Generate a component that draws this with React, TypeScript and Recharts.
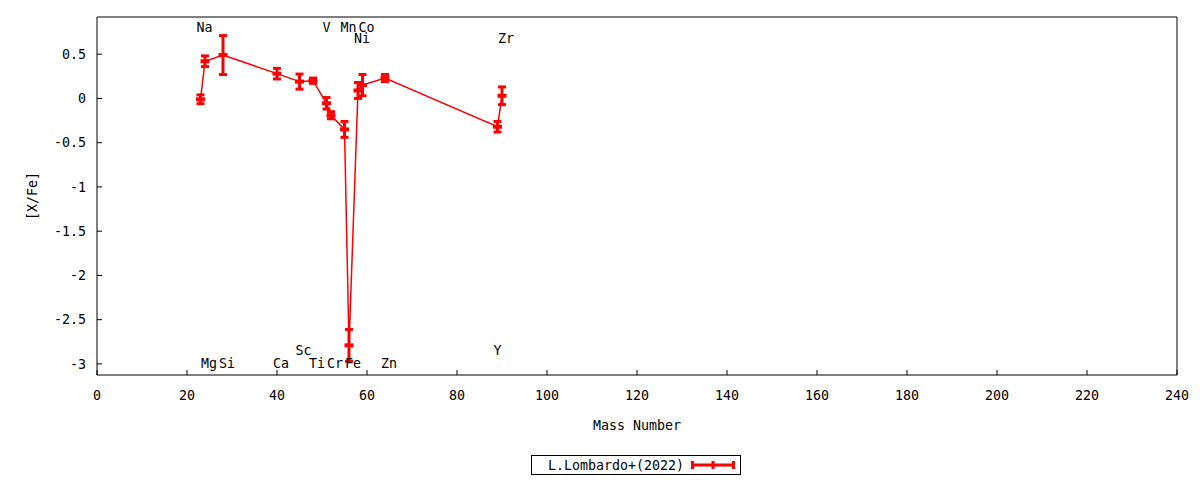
import { ScatterChart, Scatter, XAxis, YAxis, ErrorBar, Legend } from 'recharts'

const FONT = '"DejaVu Sans Mono", monospace'
const FONT_SIZE = 13.3
const RED = '#ff0000'

const elements = ['Na', 'Mg', 'Si', 'Ca', 'Sc', 'Ti', 'V', 'Cr', 'Mn', 'Fe', 'Ni', 'Co', 'Zn', 'Y', 'Zr']
const massNumbers = [23, 24, 28, 40, 45, 48, 51, 52, 55, 56, 58, 59, 64, 89, 90]
const abundances = [-0.01, 0.42, 0.49, 0.28, 0.19, 0.2, -0.055, -0.19, -0.35, -2.79, 0.09, 0.15, 0.23, -0.32, 0.03]
const errors = [0.05, 0.06, 0.22, 0.06, 0.085, 0.03, 0.065, 0.04, 0.09, 0.18, 0.09, 0.12, 0.04, 0.06, 0.1]

const labelNames = ['Na', 'Mg', 'Si', 'Ca', 'Sc', 'Ti', 'V', 'Cr', 'Mn', 'Fe', 'Co', 'Ni', 'Zn', 'Y', 'Zr']
const labelMass = [23, 24, 28, 40, 45, 48, 51, 52, 55, 56, 59, 58, 64, 89, 90]
const labelLevel = [0.8, -3, -3, -3, -2.85, -3, 0.8, -3, 0.8, -3, 0.8, 0.68, -3, -2.85, 0.68]

const xTicks = [0, 20, 40, 60, 80, 100, 120, 140, 160, 180, 200, 220, 240]
const yTicks = [-3, -2.5, -2, -1.5, -1, -0.5, 0, 0.5]

const xDomain: [number, number] = [0, 240]
const yDomain: [number, number] = [-3.125, 0.92]

const SERIES_NAME = 'L.Lombardo+(2022)'

const points = massNumbers.map((mass, i) => ({
  mass,
  value: abundances[i],
  err: errors[i],
  name: elements[i],
}))

const labels = labelMass.map((mass, i) => ({
  mass,
  value: labelLevel[i],
  name: labelNames[i],
}))

const tickStyle = { fill: '#000', fontSize: FONT_SIZE, fontFamily: FONT }

function PointMarker(props: any) {
  const { cx, cy } = props
  if (cx == null || cy == null) return null
  return <rect x={cx - 4.5} y={cy - 2} width={9} height={4} fill={RED} />
}

function ElementLabel(props: any) {
  const { cx, cy, payload } = props
  if (cx == null || cy == null) return null
  return (
    <text x={cx - 4} y={cy} dominantBaseline="central" fontSize={FONT_SIZE} fontFamily={FONT} fill="#000">
      {payload.name}
    </text>
  )
}

function LegendBox() {
  return (
    <div
      style={{
        display: 'flex',
        alignItems: 'center',
        boxSizing: 'border-box',
        width: 210,
        height: 20,
        border: '1px solid #000',
        paddingLeft: 16,
        fontFamily: FONT,
        fontSize: FONT_SIZE,
        color: '#000',
        background: '#fff',
      }}
    >
      <span>{SERIES_NAME}</span>
      <svg width={44} height={10} style={{ marginLeft: 7 }}>
        <line x1={0} y1={5} x2={44} y2={5} stroke={RED} strokeWidth={3} />
        <line x1={1.5} y1={1} x2={1.5} y2={9} stroke={RED} strokeWidth={3} />
        <line x1={22} y1={1} x2={22} y2={9} stroke={RED} strokeWidth={3} />
        <line x1={42.5} y1={1} x2={42.5} y2={9} stroke={RED} strokeWidth={3} />
      </svg>
    </div>
  )
}

export default function App() {
  return (
    <div style={{ position: 'absolute', left: 0, top: 0, width: 1200, height: 480, background: '#fff' }}>
      <ScatterChart
        width={1200}
        height={480}
        margin={{ top: 16, right: 22, bottom: 45, left: 17 }}
        style={{ fontFamily: FONT }}
      >
        <XAxis
          type="number"
          dataKey="mass"
          domain={xDomain}
          ticks={xTicks}
          allowDataOverflow
          height={60}
          tickSize={-5}
          tickMargin={21}
          tick={tickStyle}
          axisLine={{ stroke: '#000' }}
          tickLine={{ stroke: '#000' }}
          label={{ value: 'Mass Number', position: 'insideBottom', offset: 5, fill: '#000', fontSize: FONT_SIZE, fontFamily: FONT }}
        />
        <XAxis
          xAxisId="top"
          orientation="top"
          type="number"
          dataKey="mass"
          domain={xDomain}
          ticks={xTicks}
          allowDataOverflow
          height={1}
          tickSize={-5}
          tick={false}
          axisLine={{ stroke: '#000' }}
          tickLine={{ stroke: '#000' }}
        />
        <YAxis
          type="number"
          dataKey="value"
          domain={yDomain}
          ticks={yTicks}
          allowDataOverflow
          width={80}
          tickSize={-5}
          tickMargin={16}
          tick={tickStyle}
          axisLine={{ stroke: '#000' }}
          tickLine={{ stroke: '#000' }}
          label={{
            value: '[X/Fe]',
            angle: -90,
            position: 'insideLeft',
            offset: 15,
            fill: '#000',
            fontSize: FONT_SIZE,
            fontFamily: FONT,
            style: { textAnchor: 'middle' },
          }}
        />
        <YAxis
          yAxisId="right"
          orientation="right"
          type="number"
          dataKey="value"
          domain={yDomain}
          ticks={yTicks}
          allowDataOverflow
          width={1}
          tickSize={-5}
          tick={false}
          axisLine={{ stroke: '#000' }}
          tickLine={{ stroke: '#000' }}
        />
        <Scatter
          name={SERIES_NAME}
          data={points}
          fill={RED}
          line={{ stroke: RED, strokeWidth: 1.5 }}
          lineType="joint"
          shape={<PointMarker />}
          isAnimationActive={false}
        >
          <ErrorBar dataKey="err" direction="y" width={4} strokeWidth={3} stroke={RED} />
        </Scatter>
        <Scatter
          name="labels"
          data={labels}
          xAxisId="top"
          yAxisId="right"
          shape={<ElementLabel />}
          legendType="none"
          isAnimationActive={false}
        />
        <Legend
          layout="horizontal"
          verticalAlign="middle"
          align="center"
          wrapperStyle={{ top: 455, left: 531, width: 210 }}
          content={() => <LegendBox />}
        />
      </ScatterChart>
    </div>
  )
}
